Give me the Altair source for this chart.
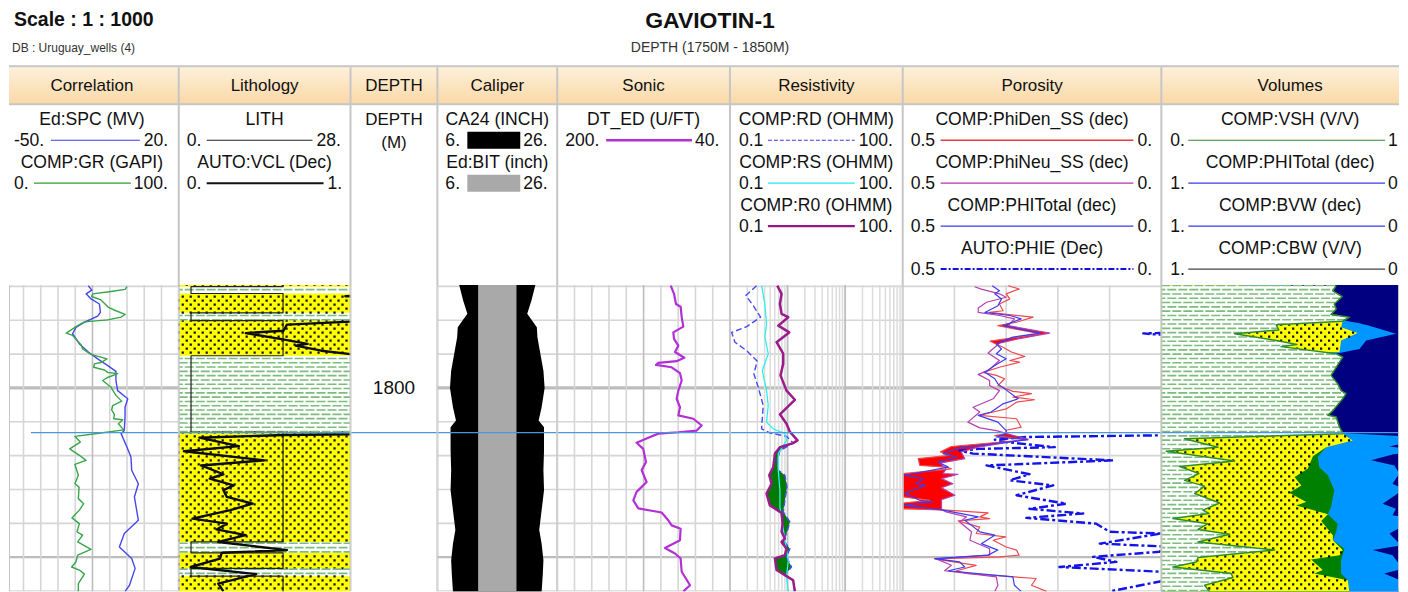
import numpy as np
import pandas as pd
import altair as alt

FONT = "Liberation Sans"
# ---------- depth / curve readings (depth in m, values in curve units) ----------
GR_D = [1770.1,1770.9,1771.5,1772.2,1773.0,1774.0,1776.2,1777.2,1778.3,1779.1,1779.9,1780.5,1781.6,1783.8,1784.5,1787.2,1788.5,1790.1,1791.4,1792.5,1792.9,1793.9,1794.7,1795.4,1795.8,1797.0,1797.8,1799.8,1802.2,1803.9,1805.2,1806.5,1807.8,1809.1,1809.4,1810.6,1812.4,1813.3,1814.3,1816.0,1818.0,1819.9,1821.4,1822.6,1825.8,1828.3,1829.3,1832.7,1834.2,1836.1,1838.4,1840.1,1842.5,1843.5,1845.5,1847.7,1849.4,1851.4,1852.9,1853.8,1855.0,1857.8,1860.1]
GR_V = [70.0,68.9,60.7,50.1,49.5,54.9,59.2,63.6,68.9,66.5,58.8,45.3,41.4,34.8,38.5,43.3,44.3,49.1,58.4,54.9,51.1,50.7,56.9,58.8,64.6,58.4,55.9,60.7,63.6,66.9,61.7,61.1,62.7,62.3,67.5,65.0,68.1,54.9,39.8,42.9,36.8,42.4,46.2,39.8,41.8,39.8,42.2,41.8,44.9,42.4,38.1,42.4,41.0,44.3,41.4,49.1,41.4,40.4,37.9,42.4,45.3,41.8,41.8]
SPC_D = [1769.8,1771.1,1772.2,1773.7,1775.2,1777.7,1778.8,1780.6,1782.1,1784.0,1787.0,1789.4,1791.4,1793.4,1795.1,1797.8,1800.8,1803.2,1805.7,1808.6,1812.6,1813.5,1817.5,1820.4,1824.3,1828.3,1832.2,1839.1,1843.0,1847.0,1850.4,1853.3,1858.3,1860.1]
SPC_V = [-16.7,-15.3,-17.6,-15.6,-12.2,-11.8,-12.9,-18.3,-21.7,-23.1,-20.3,-16.7,-12.9,-8.8,-5.5,-5.5,-4.8,-0.7,-1.8,-1.8,-2.1,-3.4,-1.0,0.6,0.9,3.6,2.0,3.6,-2.1,-4.1,0.9,2.3,0.0,-1.8]

LITH_D = [1769.3,1770.1,1770.1,1772.1,1772.1,1777.8,1777.8,1780.1,1780.1,1790.5,1790.5,1813.1,1813.1,1845.5,1845.5,1848.7,1848.7,1853.3,1853.3,1855.6,1855.6,1860.2]
LITH_V = [17,17,2,2,17,17,2,2,17,17,2,2,17,17,2,2,17,17,2,2,17,17]
SAND_TOP = [1769.3,1772.1,1780.1,1813.1,1848.7,1855.6]
SAND_BOT = [1770.1,1777.8,1790.5,1845.5,1853.3,1860.2]
VCL_D = [1769.3,1772.6,1772.9,1773.2,1779.9,1780.4,1781.3,1783.1,1783.8,1785.5,1787.0,1787.5,1789.0,1790.0,1790.5,1812.8,1813.7,1813.9,1814.7,1817.2,1818.7,1821.4,1822.9,1825.5,1826.8,1828.8,1830.2,1832.2,1834.2,1836.1,1838.6,1840.1,1841.8,1843.5,1845.5,1847.9,1848.7,1850.4,1852.9,1855.0,1857.8,1860.1]
VCL_V = [1.2,1.2,0.97,1.2,1.2,1.0,0.63,0.61,0.39,0.59,0.75,0.68,0.83,1.0,1.2,1.2,1.0,0.61,0.12,0.35,0.03,0.50,0.13,0.26,0.18,0.32,0.26,0.28,0.43,0.30,0.08,0.28,0.22,0.39,0.23,0.63,0.25,0.24,0.07,0.45,0.23,0.26]

CAL_D = [1769.3,1774.2,1778.1,1782.1,1785.0,1789.0,1794.9,1800.0,1805.7,1809.6,1811.6,1813.5,1818.4,1824.3,1830.2,1836.1,1842.0,1846.0,1850.9,1854.8,1860.2]
CAL_HALF = [6.4,5.7,5.0,6.6,6.7,7.1,7.7,7.9,7.4,6.9,7.8,7.8,7.8,7.7,7.8,7.4,7.0,7.4,7.7,7.6,7.4]
BIT_HALF = 3.2

DT_D = [1769.8,1772.2,1775.2,1776.0,1779.1,1781.9,1783.6,1785.5,1787.5,1789.4,1791.1,1792.1,1792.6,1793.2,1793.9,1795.6,1797.8,1800.8,1803.2,1805.7,1808.1,1809.1,1811.1,1812.6,1813.1,1813.5,1814.7,1816.2,1818.0,1821.9,1824.3,1827.8,1830.7,1833.2,1835.6,1836.8,1839.1,1840.6,1841.6,1845.0,1847.3,1848.9,1850.4,1854.3,1858.3,1860.1]
DT_V = [94.9,91.8,90.0,85.7,84.7,83.2,92.5,91.8,87.8,90.9,82.3,89.4,106.4,108.5,94.0,86.3,84.7,87.8,89.4,86.3,87.8,73.9,66.2,70.8,87.8,106.4,115.6,126.5,120.3,117.8,121.8,117.2,126.5,129.5,124.9,103.3,97.1,94.0,85.7,86.3,100.2,90.9,85.7,84.7,77.0,83.2]

RD_D = [1769.8,1772.7,1775.7,1779.1,1781.9,1783.6,1786.5,1789.0,1792.1,1795.8,1799.8,1805.2,1812.1,1813.3,1814.3,1816.3,1818.5,1821.4,1824.3,1825.8,1829.3,1833.2,1836.6,1839.6,1843.0,1845.0,1847.5,1849.9,1852.9,1855.3,1856.8,1860.1]
RD_V = [.29,.189,.254,.34,.195,.107,.122,.195,.298,.26,.31,.378,.354,.494,.96,1.25,.737,.663,.69,.90,.98,.90,.84,1.10,.96,.84,1.10,.96,1.17,.90,1.25,1.34]
R0_D = [1769.8,1772.2,1775.2,1778.1,1779.1,1781.6,1783.6,1786.5,1789.9,1792.9,1796.3,1800.8,1803.5,1807.8,1810.6,1813.0,1815.5,1816.3,1817.5,1819.4,1823.4,1825.8,1828.3,1831.2,1834.7,1836.9,1840.1,1842.5,1844.5,1845.5,1847.5,1849.4,1850.4,1853.8,1855.3,1856.8,1860.1]
R0_V = [.663,.787,.737,.787,1.03,.69,1.07,.645,.84,.84,.754,.96,1.34,.737,.96,1.10,1.49,1.25,.737,.603,.565,.481,.528,.432,.494,.787,.82,.787,.90,.787,.96,.90,.603,.645,.90,1.25,1.34]
RS_D = [1769.8,1775.2,1781.1,1785.0,1789.9,1794.9,1800.8,1805.2,1810.1,1812.1,1813.5,1815.5,1819.4,1824.3,1830.2,1835.2,1838.1,1845.0,1850.9,1855.8,1860.1]
RS_V = [.354,.404,.432,.404,.462,.364,.432,.462,.432,.565,.90,.96,.69,.69,.737,.737,.787,.90,1.03,.96,1.03]

DEN_D = [1769.8,1770.8,1772.2,1773.7,1775.2,1777.2,1777.7,1779.1,1780.6,1781.6,1784.0,1785.0,1786.2,1788.0,1789.4,1790.7,1791.9,1792.4,1793.9,1795.4,1796.3,1797.3,1799.3,1801.0,1801.7,1802.7,1803.5,1804.2,1806.2,1807.1,1808.1,1809.1,1811.6,1812.5,1813.5,1814.1,1815.3,1817.3,1818.9,1819.9,1820.9,1822.9,1823.4,1823.9,1825.3,1832.2,1833.2,1834.0,1835.7,1836.0,1836.9,1838.1,1838.6,1839.3,1841.1,1843.0,1844.0,1845.0,1847.0,1847.9,1849.4,1849.9,1850.5,1852.4,1854.0,1854.8,1856.3,1858.3,1860.1]
DEN_V = [.296,.275,.300,.293,.313,.306,.332,.248,.280,.316,.235,.277,.331,.306,.290,.264,.293,.274,.313,.345,.319,.303,.316,.287,.251,.287,.245,.280,.300,.325,.351,.280,.271,.300,.300,.322,.258,.406,.427,.409,.470,.467,.416,.406,.499,.499,.448,.499,.499,.422,.335,.351,.332,.393,.351,.358,.301,.325,.300,.280,.275,.313,.438,.358,.396,.377,.242,.251,.222]
NEU_D = [1770.1,1770.8,1772.2,1773.2,1774.7,1776.4,1777.7,1778.6,1779.6,1781.6,1783.8,1785.5,1786.8,1789.7,1791.9,1794.9,1796.0,1797.8,1799.3,1800.8,1803.2,1805.7,1807.1,1810.1,1811.8,1812.6,1814.0,1815.1,1817.5,1818.9,1820.9,1822.2,1823.9,1825.3,1825.5,1826.8,1828.3,1829.5,1831.7,1833.0,1836.0,1836.6,1838.1,1839.6,1842.5,1845.0,1847.5,1849.4,1850.5,1852.4,1854.0,1855.8,1858.3,1860.1]
NEU_V = [.361,.348,.313,.300,.338,.354,.354,.313,.284,.296,.216,.277,.313,.335,.313,.335,.354,.332,.332,.313,.325,.364,.351,.374,.351,.319,.287,.258,.354,.387,.380,.428,.416,.422,.393,.425,.403,.425,.399,.425,.425,.416,.377,.390,.367,.370,.332,.332,.435,.406,.419,.319,.316,.322]
PHIT_D = [1769.8,1771.3,1772.2,1773.7,1775.7,1777.7,1778.6,1779.6,1781.6,1783.8,1785.0,1787.0,1788.5,1789.9,1791.4,1793.4,1795.4,1797.3,1798.8,1803.2,1804.7,1807.1,1808.1,1810.1,1812.6,1813.5,1814.5,1815.3,1817.7,1819.4,1820.4,1821.9,1823.4,1825.8,1826.8,1828.3,1828.8,1831.2,1833.2,1833.7,1834.7,1836.1,1838.1,1839.1,1840.6,1842.5,1843.5,1846.0,1847.9,1849.4,1850.4,1851.4,1852.9,1854.0,1855.8,1858.3,1860.1]
PHIT_V = [.327,.313,.322,.309,.316,.341,.293,.271,.306,.235,.287,.319,.309,.319,.300,.322,.341,.322,.316,.277,.306,.329,.354,.316,.300,.300,.319,.258,.390,.422,.396,.432,.412,.496,.461,.474,.457,.496,.467,.441,.496,.422,.354,.380,.367,.351,.322,.348,.316,.335,.438,.390,.380,.412,.287,.284,.271]
PHIE_D = [1769.3,1783.6,1783.7,1783.9,1784.1,1784.4,1784.6,1813.5,1814.0,1814.5,1815.3,1816.0,1817.5,1818.0,1818.5,1819.4,1821.4,1822.9,1825.5,1827.3,1828.8,1831.7,1834.2,1835.7,1837.1,1838.4,1840.1,1842.5,1843.0,1846.0,1846.8,1848.4,1849.9,1851.4,1852.9,1854.3,1855.8,1857.1,1860.1]
PHIE_V = [-.05,-.05,-.02,.035,.02,-.02,-.05,-.05,0,.261,.322,.300,.206,.351,.390,.364,.093,.338,.255,.293,.209,.280,.184,.255,.151,.261,.126,.100,0,.119,0,.003,.132,.087,.197,0,-.016,0,.10]

VSH_D = [1769.8,1771.3,1773.0,1775.2,1776.7,1778.3,1779.1,1780.3,1781.3,1782.9,1784.0,1786.0,1787.2,1787.8,1789.9,1790.9,1793.9,1796.3,1798.8,1800.8,1801.7,1803.2,1806.7,1808.1,1808.6,1811.6,1813.3,1813.5,1815.0,1817.5,1818.7,1821.6,1823.2,1825.3,1827.3,1829.0,1831.2,1834.0,1836.1,1837.1,1838.6,1840.1,1841.8,1843.2,1845.5,1847.9,1850.1,1851.4,1852.9,1854.8,1856.0,1858.3,1860.2]
VSH_V = [.676,.663,.699,.669,.676,.656,.727,.701,.444,.454,.283,.444,.524,.463,.676,.701,.676,.656,.682,.695,.714,.701,.663,.644,.676,.689,.701,.701,.090,.219,.019,.283,.071,.145,.090,.167,.129,.225,.161,.184,.045,.180,.142,.264,.142,.438,.142,.135,.045,.270,.277,.167,.187]
VPHI_D = [1769.3,1780.2,1780.3,1782.1,1783.8,1786.0,1789.4,1789.9,1813.3,1813.5,1815.5,1817.5,1820.2,1823.9,1826.3,1828.8,1831.0,1833.7,1834.7,1837.3,1839.3,1843.5,1845.0,1847.9,1849.4,1850.7,1853.8,1854.8,1856.8,1860.2]
VPHI_V = [.7,.7,.299,.305,.241,.305,.311,.7,.7,.299,.260,.363,.414,.434,.485,.459,.505,.440,.479,.356,.382,.337,.337,.299,.311,.421,.376,.408,.279,.273]
BVW_D = [1769.3,1813.4,1814.5,1815.5,1817.5,1820.4,1823.4,1825.8,1830.2,1835.2,1837.3,1840.1,1842.5,1845.0,1847.5,1850.9,1854.8,1856.8,1860.2]
BVW_V = [.7,.7,.299,.292,.363,.395,.389,.356,.331,.344,.356,.318,.324,.337,.292,.305,.305,.279,.273]
CBW_D = [1769.3,1779.5,1779.9,1780.9,1781.6,1784.0,1786.0,1788.5,1789.7,1790.2,1813.2,1813.3,1814.3,1816.0,1817.3,1818.0,1818.9,1819.7,1821.4,1822.9,1825.3,1828.3,1829.3,1831.2,1834.2,1835.7,1837.6,1838.6,1840.1,1843.0,1846.5,1847.9,1849.4,1853.4,1854.8,1857.8,1860.2]
CBW_V = [.5,.5,.305,.234,.196,.093,.208,.234,.311,.5,.5,.299,.048,.048,.118,.048,.048,.106,.189,.099,.080,.106,.080,.086,.144,.093,.106,.015,.048,.118,.073,.183,.106,.067,.138,.048,.028]

TRACKS = ["Correlation","Lithology","DEPTH","Caliper","Sonic","Resistivity","Porosity","Volumes"]
LEGENDS = {
 "Correlation":[("Ed:SPC (MV)","-50.","20."),("COMP:GR (GAPI)","0.","100.")],
 "Lithology":[("LITH","0.","28."),("AUTO:VCL (Dec)","0.","1.")],
 "Caliper":[("CA24 (INCH)","6.","26."),("Ed:BIT (inch)","6.","26.")],
 "Sonic":[("DT_ED (U/FT)","200.","40.")],
 "Resistivity":[("COMP:RD (OHMM)","0.1","100."),("COMP:RS (OHMM)","0.1","100."),("COMP:R0 (OHMM)","0.1","100.")],
 "Porosity":[("COMP:PhiDen_SS (dec)","0.5","0."),("COMP:PhiNeu_SS (dec)","0.5","0."),("COMP:PHITotal (dec)","0.5","0."),("AUTO:PHIE (Dec)","0.5","0.")],
 "Volumes":[("COMP:VSH (V/V)","0.","1"),("COMP:PHITotal (dec)","1.","0"),("COMP:BVW (dec)","1.","0"),("COMP:CBW (V/V)","1.","0")],
}
TITLE = "GAVIOTIN-1"
SUBTITLE = "DEPTH (1750M - 1850M)"
SCALE_TEXT = "Scale : 1 : 1000"
DB_TEXT = "DB : Uruguay_wells (4)"
MARKER_DEPTH = 1813.2

# ---------- layout and style (page pixels) ----------
EDGES = [8,178,350,437,557,730,903,1162,1400]
WIDTHS = [b-a for a,b in zip(EDGES,EDGES[1:])]
TRACK_H = 307
YDOM = [1769.6,1860.16]
GRID="#d6d6d6"; MAJOR="#bdbdbd"; BORDER="#c6c6c6"; MARK="#4a98dc"
FS = 17; LFS = 17.6
# per legend row: left-value x, right-value x (text start), line start, line end, colour, width, dash
LINES = {
 ("Correlation",0):(13,143,50,139,"#3b3bea",1.2,None),
 ("Correlation",1):(13,133,33,130,"#2ca02c",1.2,None),
 ("Lithology",0):(186,316,206,312,"#222222",1.2,None),
 ("Lithology",1):(186,327,206,323,"#111111",2,None),
 ("Caliper",0):(445,523,467,520,"#000000",17,None),
 ("Caliper",1):(445,523,467,520,"#a9a9a9",17,None),
 ("Sonic",0):(565,695,606,692,"#b32fd6",2.5,None),
 ("Resistivity",0):(739,859,768,855,"#3b3bea",1.2,[4,2]),
 ("Resistivity",1):(739,859,768,855,"#20e8f0",1.4,None),
 ("Resistivity",2):(739,859,768,855,"#96158a",2.2,None),
 ("Porosity",0):(911,1138,941,1134,"#e8383c",1.4,None),
 ("Porosity",1):(911,1138,941,1134,"#b832b0",1.4,None),
 ("Porosity",2):(911,1138,941,1134,"#3b3bea",1.4,None),
 ("Porosity",3):(911,1138,941,1134,"#1212e0",2,[6,2,2,2]),
 ("Volumes",0):(1171,1389,1189,1386,"#2e8b2e",1.2,None),
 ("Volumes",1):(1171,1389,1189,1386,"#3b3bea",1.2,None),
 ("Volumes",2):(1171,1389,1189,1386,"#3b3bea",1.2,None),
 ("Volumes",3):(1171,1389,1189,1386,"#444444",1.2,None),
}
Y = alt.Y("d:Q", scale=alt.Scale(domain=YDOM, nice=False, zero=False, reverse=True), axis=None)

def xs(dom, kind=None):
    if kind: return alt.Scale(domain=dom, type=kind, nice=False)
    return alt.Scale(domain=dom, nice=False, zero=False)

def frame(d, v, base=None):
    df = pd.DataFrame({"d":d,"v":v})
    df["i"] = range(len(df))
    if base is not None: df["b"] = base
    return df

def line(d, v, dom, color, w=1.2, dash=None, kind=None, opacity=1):
    kw = dict(color=color, strokeWidth=w, clip=True, opacity=opacity, strokeJoin="round")
    if dash: kw["strokeDash"] = dash
    return alt.Chart(frame(d,v)).mark_line(**kw).encode(
        x=alt.X("v:Q", scale=xs(dom,kind), axis=None), y=Y, order="i:Q")

def area(d, v, v2, dom, color, kind=None):
    return alt.Chart(frame(d,v,v2)).mark_area(color=color, orient="horizontal", clip=True, opacity=1, interpolate="linear").encode(
        x=alt.X("v:Q", scale=xs(dom,kind), axis=None), x2="b:Q", y=Y)

def hgrid(w):
    lv = list(range(1770,1861,10))
    df = pd.DataFrame({"d":lv})
    df["c"] = [("M" if x==1800 else "m" if x==1850 else "g") for x in lv]
    out=[]
    for key,col,sw in (("g",GRID,1.6),("m",MAJOR,2.2),("M",MAJOR,3.2)):
        out.append(alt.Chart(df[df.c==key]).mark_rule(color=col,strokeWidth=sw,clip=True).encode(
            y=Y, x=alt.value(0), x2=alt.value(w)))
    return out

def vgrid(vals, dom, color=GRID, sw=1.6, kind=None):
    return alt.Chart(pd.DataFrame({"v":vals})).mark_rule(color=color,strokeWidth=sw,clip=True).encode(
        x=alt.X("v:Q", scale=xs(dom,kind), axis=None), y=alt.value(0), y2=alt.value(TRACK_H))

def marker(w, start=0):
    return alt.Chart(pd.DataFrame({"d":[MARKER_DEPTH]})).mark_rule(color=MARK,strokeWidth=1.2,clip=True).encode(
        y=Y, x=alt.value(start), x2=alt.value(w))

def borders(w):
    df = pd.DataFrame({"x":[0,w]})
    return alt.Chart(df).mark_rule(color=BORDER,strokeWidth=2,clip=True).encode(
        x=alt.X("x:Q",scale=None,axis=None), y=alt.value(0), y2=alt.value(TRACK_H))

def panel(layers, w):
    return alt.layer(*layers).resolve_scale(x="independent").properties(width=w, height=TRACK_H)

def fine(d0,d1,step=0.1): return np.arange(d0,d1+step/2,step)

# dotted sand texture and dashed shale texture
def dots(tops, bots, frac_step, left=None, right=None):
    rows = np.arange(1769.5, 1860.3, 1.18)
    rec=[]
    for k,r in enumerate(rows):
        if not any(t<=r<=b for t,b in zip(tops,bots)): continue
        off = frac_step/2 if k%2 else 0
        for f in np.arange(off, 1.0, frac_step):
            if left is not None and not (left(r) < f < right(r)): continue
            rec.append((r,f))
    return pd.DataFrame(rec,columns=["d","f"])

def dotlayer(df, dom):
    return alt.Chart(df).mark_square(size=5,color="#101000",opacity=1,clip=True).encode(
        x=alt.X("f:Q",scale=xs(dom),axis=None), y=Y)

def shale(tops, bots, dom, edge=None):
    rows = np.arange(1769.7, 1860.3, 1.27)
    rec=[]
    for k,r in enumerate(rows):
        if not any(t<=r<=b for t,b in zip(tops,bots)): continue
        rec.append((r, 0.0, float(edge(r)) if edge else 1.0, k%2))
    df = pd.DataFrame(rec,columns=["d","a","b","odd"])
    out=[]
    for odd,offset in ((0,0),(1,5)):
        out.append(alt.Chart(df[df.odd==odd]).mark_rule(color="#7cbc7c",strokeWidth=1.6,strokeDash=[9,2],strokeDashOffset=offset,clip=True).encode(
            x=alt.X("a:Q",scale=xs(dom),axis=None), x2="b:Q", y=Y))
    return out

# ---- Correlation ----
w=WIDTHS[0]; GRD=[1.6,100]; SPD=[-48.9,20]
corr = panel(hgrid(w)+[
    vgrid([10,20,30,40,60,70,80,90],GRD),
    vgrid([50],GRD,MAJOR),
    line(SPC_D,SPC_V,SPD,"#4646ee",1.4),
    line(GR_D,GR_V,GRD,"#36a648",1.4),
    marker(w,22), borders(w)], w)

# ---- Lithology ----
w=WIDTHS[1]
SH_TOP=[b for b in SAND_BOT[:-1]]; SH_BOT=[t for t in SAND_TOP[1:]]
sand = pd.DataFrame({"d":SAND_TOP,"d2":SAND_BOT})
lith = panel([
    alt.Chart(sand).mark_rect(color="#ffff00",clip=True).encode(y=Y,y2="d2:Q",x=alt.value(0),x2=alt.value(w)),
    dotlayer(dots(SAND_TOP,SAND_BOT,8/172),[0,1]),
    *shale(SH_TOP,SH_BOT,[0,1]),
    line(LITH_D,LITH_V,[0,28],"#222222",1.2),
    line(VCL_D,VCL_V,[0,1],"#0c0c0c",2.4),
    marker(w), borders(w)], w)

# ---- Depth ----
w=WIDTHS[2]
depth = panel([
    alt.Chart(pd.DataFrame({"d":[1800],"t":["1800"]})).mark_text(font=FONT,fontSize=19,color="#111111").encode(
        y=Y, x=alt.value(w/2), text="t:N"),
    marker(w), borders(w)], w)

# ---- Caliper ----
w=WIDTHS[3]; CD=[6,26]
cal_l=[16-h for h in CAL_HALF]; cal_r=[16+h for h in CAL_HALF]
cal = panel(hgrid(w)+[
    area(CAL_D,cal_l,cal_r,CD,"#000000"),
    area([1769.3,1860.2],[16-BIT_HALF]*2,[16+BIT_HALF]*2,CD,"#a9a9a9"),
    marker(w), borders(w)], w)

# ---- Sonic ----
w=WIDTHS[4]; DD=[200,40]
sonic = panel(hgrid(w)+[
    vgrid([184,168,152,136,104,88,72,56],DD),
    vgrid([120],DD,MAJOR),
    line(DT_D,DT_V,DD,"#b32fd6",2.2),
    marker(w), borders(w)], w)

# ---- Resistivity ----
w=WIDTHS[5]; RDM=[0.1,100]
fd=fine(1769.8,1860.1)
lrd=10**np.interp(fd,RD_D,np.log10(RD_V)); lr0=10**np.interp(fd,R0_D,np.log10(R0_V))
minors=[m*10.0**e for e in (-1,0,1) for m in range(2,10)]
res = panel(hgrid(w)+[
    vgrid(minors,RDM,"#dcdcdc",1.5,"log"),
    vgrid([1,10],RDM,MAJOR,1.8,"log"),
    area(fd.tolist(),lrd.tolist(),np.minimum(lrd,lr0).tolist(),RDM,"#007a00","log"),
    line(RD_D,RD_V,RDM,"#4a4af0",1.4,[6,3],"log"),
    line(RS_D,RS_V,RDM,"#30eef0",1.3,None,"log"),
    line(R0_D,R0_V,RDM,"#9b1b8c",2.5,None,"log"),
    marker(w), borders(w)], w)

# ---- Porosity ----
w=WIDTHS[6]; PD=[0.5,0]
pden=np.interp(fd,DEN_D,DEN_V); pneu=np.interp(fd,NEU_D,NEU_V)
poro = panel(hgrid(w)+[
    vgrid([.4,.3,.2,.1],PD),
    area(fd.tolist(),pden.tolist(),np.minimum(pden,pneu).tolist(),PD,"#ff0000"),
    line(PHIE_D,PHIE_V,PD,"#1414e6",2.4,[9,3,3,3]),
    line(DEN_D,DEN_V,PD,"#f0484c",1.2),
    line(NEU_D,NEU_V,PD,"#b540b0",1.2),
    line(PHIT_D,PHIT_V,PD,"#3c3cf0",1.2),
    marker(w), borders(w)], w)

# ---- Volumes (track runs on past the page edge) ----
w=WIDTHS[7]; SHOWN=w/259; VD=[0,SHOWN]; RV=[1,1-SHOWN]
vsh_f=lambda r: np.interp(r,VSH_D,VSH_V)
phi_f=lambda r: 1-np.interp(r,VPHI_D,VPHI_V)
def fillv(d,v,color):
    return area(d,v,[1.0]*len(d),RV,color)
vol = panel([
    alt.Chart(pd.DataFrame({"d":[1769.3],"d2":[1860.2]})).mark_rect(color="#000080",clip=True).encode(y=Y,y2="d2:Q",x=alt.value(0),x2=alt.value(w)),
    fillv(CBW_D,CBW_V,"#0096ff"),
    fillv(BVW_D,BVW_V,"#008000"),
    fillv(VPHI_D,VPHI_V,"#ffff00"),
    dotlayer(dots([1780.2,1813.4],[1790.0,1860.2],8/259,vsh_f,phi_f),VD),
    area(VSH_D,VSH_V,[0.0]*len(VSH_D),VD,"#ffffff"),
    *shale([1769.3],[1860.2],VD,vsh_f),
    line(VSH_D,VSH_V,VD,"#2e8b2e",1.5),
    marker(w), borders(w)], w)

tracks = alt.hconcat(corr,lith,depth,cal,sonic,res,poro,vol,spacing=0,bounds="flush")

# ---------- header ----------
PW=1392; PH=277
px=lambda v: v-8
py=lambda v: v-8
def txt(x,y,t,size=FS,align="center",weight="normal",color="#111111"):
    return alt.Chart(pd.DataFrame({"t":[t]})).mark_text(font=FONT,fontSize=size,align=align,fontWeight=weight,color=color,baseline="middle").encode(
        x=alt.value(px(x)),y=alt.value(py(y)),text="t:N")
def hline(y,col=BORDER,sw=2):
    return alt.Chart(pd.DataFrame({"a":[0]})).mark_rule(color=col,strokeWidth=sw).encode(x=alt.value(0),x2=alt.value(PW),y=alt.value(py(y)))
head=[
  alt.Chart(pd.DataFrame({"a":[0]})).mark_rect(fill=alt.Gradient(gradient="linear",x1=0,x2=0,y1=0,y2=1,
      stops=[alt.GradientStop(color="#fef0da",offset=0),alt.GradientStop(color="#fad8a6",offset=1)])).encode(
      x=alt.value(0),x2=alt.value(PW),y=alt.value(py(67)),y2=alt.value(py(104))),
  hline(66),hline(104),
  txt(13,20,SCALE_TEXT,19.5,"left","bold"),
  txt(11,48,DB_TEXT,12,"left","normal","#333333"),
  txt(710,21,TITLE,23,"center","bold"),
  txt(710,48,SUBTITLE,14,"center","normal","#333333"),
]
for e in EDGES[1:-1]:
    head.append(alt.Chart(pd.DataFrame({"a":[0]})).mark_rule(color=BORDER,strokeWidth=2).encode(
        x=alt.value(px(e)),y=alt.value(py(67)),y2=alt.value(py(285))))
for i,tr in enumerate(TRACKS):
    c=(EDGES[i]+EDGES[i+1])/2
    if i==0: c=91
    if i==7: c=1291
    head.append(txt(c,86,tr))
head.append(txt(393.5,120,"DEPTH")); head.append(txt(393.5,143,"(M)"))
for tr,rows in LEGENDS.items():
    i=TRACKS.index(tr)
    c=(EDGES[i]+EDGES[i+1])/2
    if tr=="Correlation": c=91
    if tr=="Volumes": c=1291
    for r,(name,lo,hi) in enumerate(rows):
        a,b,l0,l1,col,sw,dash=LINES[(tr,r)]
        step=43
        yn=120+step*r; yl=141+step*r
        head.append(txt(c,yn,name,LFS))
        head.append(txt(a,yl,lo,LFS,"left")); head.append(txt(b,yl,hi,LFS,"left"))
        kw=dict(color=col,strokeWidth=sw)
        if dash: kw["strokeDash"]=dash
        head.append(alt.Chart(pd.DataFrame({"a":[0]})).mark_rule(**kw).encode(
            x=alt.value(px(l0)),x2=alt.value(px(l1)),y=alt.value(py(yl-1))))
header = alt.layer(*head).properties(width=PW,height=PH)

chart = alt.vconcat(header,tracks,spacing=0,bounds="flush").properties(padding=0,background="#ffffff").configure_view(stroke=None)
chart.save("out.html", embed_options={"renderer":"svg","actions":False})
